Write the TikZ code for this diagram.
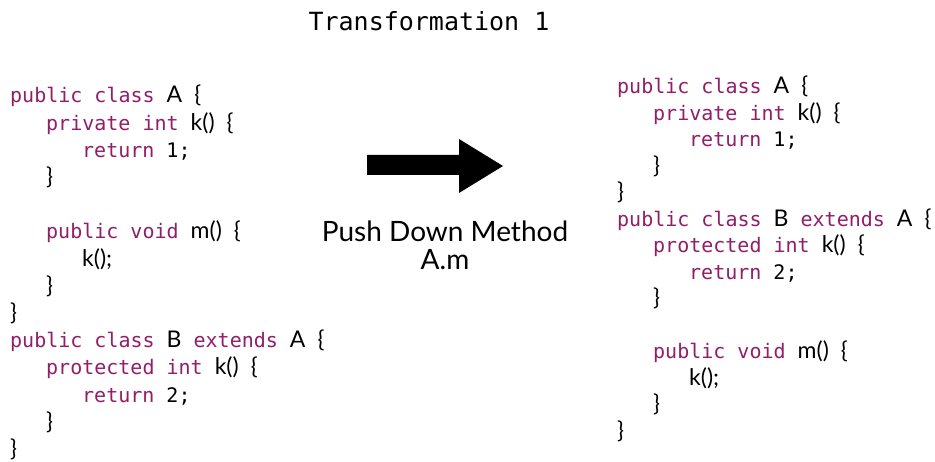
\documentclass[tikz,border=0pt]{standalone}
\usepackage{fontspec}
\setmainfont{Lato}
\newfontfamily\codefont{DejaVu Sans Mono}
\newfontfamily\identfont{Lato}
\definecolor{kwcol}{RGB}{145,30,105}
% keywords and literals are set in the monospaced face, identifiers in the sans face
\newcommand\kw[1]{{\codefont\fontsize{20}{24}\selectfont\color{kwcol}#1}}
\newcommand\lit[1]{{\codefont\fontsize{20}{24}\selectfont #1}}
\newcommand\msp{\lit{\ }}
\tikzset{
  codeline/.style={anchor=base west, inner sep=0pt, font=\identfont\fontsize{23}{27}\selectfont},
  titletext/.style={anchor=base, inner sep=0pt, font=\codefont\fontsize{25}{30}\selectfont},
  caption/.style={anchor=base, inner sep=0pt, font=\identfont\fontsize{28}{33}\selectfont},
  bigarrow/.style={fill=black, draw=none}
}
\begin{document}
\begin{tikzpicture}[x=1pt,y=-1pt]
\useasboundingbox (0,0) rectangle (935,462);
\fill[white] (0,0) rectangle (935,462);

% title
\node[titletext] (title) at (429,31) {Transformation 1};

% source program
\node[codeline] (l1)  at (10,103)    {\kw{public}\msp\kw{class}\msp A\msp\{};
\node[codeline] (l2)  at (46,130.2)  {\kw{private}\msp\kw{int}\msp k()\msp\{};
\node[codeline] (l3)  at (82,157.4)  {\kw{return}\msp\lit{1;}};
\node[codeline] (l4)  at (46,184.6)  {\}};
\node[codeline] (l6)  at (46,239)    {\kw{public}\msp\kw{void}\msp m()\msp\{};
\node[codeline] (l7)  at (82,266.2)  {k();};
\node[codeline] (l8)  at (46,293.4)  {\}};
\node[codeline] (l9)  at (10,320.6)  {\}};
\node[codeline] (l10) at (10,347.8)  {\kw{public}\msp\kw{class}\msp B\msp\kw{extends}\msp A\msp\{};
\node[codeline] (l11) at (46,375)    {\kw{protected}\msp\kw{int}\msp k()\msp\{};
\node[codeline] (l12) at (82,402.2)  {\kw{return}\msp\lit{2;}};
\node[codeline] (l13) at (46,429.4)  {\}};
\node[codeline] (l14) at (10,456.6)  {\}};

% transformation arrow and its label
\fill[bigarrow] (367,155) -- (459,155) -- (459,139) -- (503,166)
  -- (459,193) -- (459,175) -- (367,175) -- cycle;
\node[caption] (op)  at (445,242) {Push Down Method};
\node[caption] (opm) at (445,270) {A.m};

% resulting program
\node[codeline] (r1)  at (617,94)    {\kw{public}\msp\kw{class}\msp A\msp\{};
\node[codeline] (r2)  at (653,120.5) {\kw{private}\msp\kw{int}\msp k()\msp\{};
\node[codeline] (r3)  at (689,147)   {\kw{return}\msp\lit{1;}};
\node[codeline] (r4)  at (653,173.5) {\}};
\node[codeline] (r5)  at (617,200)   {\}};
\node[codeline] (r6)  at (617,226.5) {\kw{public}\msp\kw{class}\msp B\msp\kw{extends}\msp A\msp\{};
\node[codeline] (r7)  at (653,253)   {\kw{protected}\msp\kw{int}\msp k()\msp\{};
\node[codeline] (r8)  at (689,279.5) {\kw{return}\msp\lit{2;}};
\node[codeline] (r9)  at (653,306)   {\}};
\node[codeline] (r10) at (653,359)   {\kw{public}\msp\kw{void}\msp m()\msp\{};
\node[codeline] (r11) at (689,385.5) {k();};
\node[codeline] (r12) at (653,412)   {\}};
\node[codeline] (r13) at (617,438.5) {\}};
\end{tikzpicture}
\end{document}
